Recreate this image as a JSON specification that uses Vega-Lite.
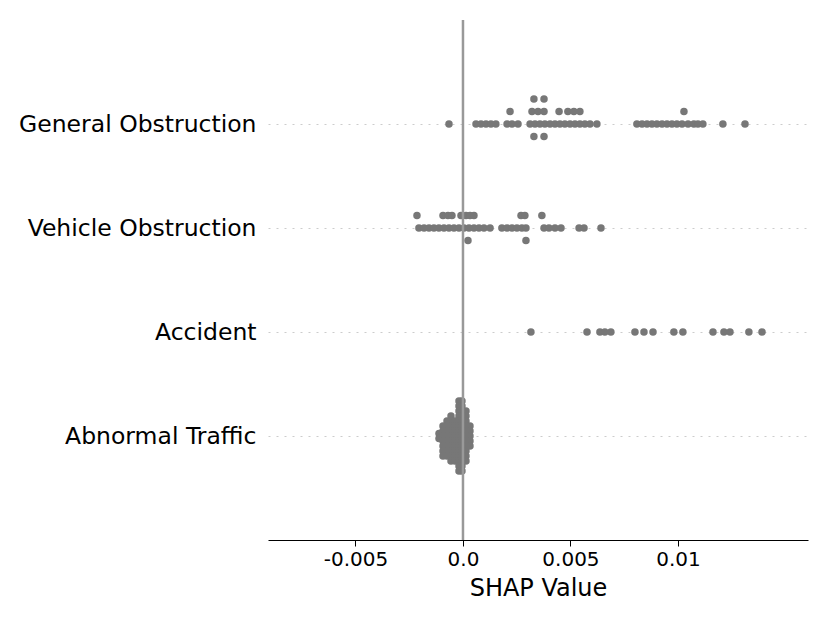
{
 "$schema": "https://vega.github.io/schema/vega-lite/v6.json",
 "width": 540,
 "height": 520,
 "autosize": {"type": "none"},
 "padding": {"left": 268, "top": 20, "right": 22, "bottom": 83},
 "background": "white",
 "config": {"view": {"stroke": null}, "font": "DejaVu Sans"},
 "datasets": {
  "pts": [
   {"feature":"General Obstruction","shap":-0.000651,"level":0},
   {"feature":"General Obstruction","shap":0.000605,"level":0},
   {"feature":"General Obstruction","shap":0.000837,"level":0},
   {"feature":"General Obstruction","shap":0.00107,"level":0},
   {"feature":"General Obstruction","shap":0.0013,"level":0},
   {"feature":"General Obstruction","shap":0.00153,"level":0},
   {"feature":"General Obstruction","shap":0.00205,"level":0},
   {"feature":"General Obstruction","shap":0.00228,"level":0},
   {"feature":"General Obstruction","shap":0.00256,"level":0},
   {"feature":"General Obstruction","shap":0.00312,"level":0},
   {"feature":"General Obstruction","shap":0.00335,"level":0},
   {"feature":"General Obstruction","shap":0.00358,"level":0},
   {"feature":"General Obstruction","shap":0.00381,"level":0},
   {"feature":"General Obstruction","shap":0.00405,"level":0},
   {"feature":"General Obstruction","shap":0.00428,"level":0},
   {"feature":"General Obstruction","shap":0.00451,"level":0},
   {"feature":"General Obstruction","shap":0.00474,"level":0},
   {"feature":"General Obstruction","shap":0.00498,"level":0},
   {"feature":"General Obstruction","shap":0.00521,"level":0},
   {"feature":"General Obstruction","shap":0.00544,"level":0},
   {"feature":"General Obstruction","shap":0.00567,"level":0},
   {"feature":"General Obstruction","shap":0.00591,"level":0},
   {"feature":"General Obstruction","shap":0.00623,"level":0},
   {"feature":"General Obstruction","shap":0.00809,"level":0},
   {"feature":"General Obstruction","shap":0.00833,"level":0},
   {"feature":"General Obstruction","shap":0.00856,"level":0},
   {"feature":"General Obstruction","shap":0.00879,"level":0},
   {"feature":"General Obstruction","shap":0.00902,"level":0},
   {"feature":"General Obstruction","shap":0.00926,"level":0},
   {"feature":"General Obstruction","shap":0.00949,"level":0},
   {"feature":"General Obstruction","shap":0.00972,"level":0},
   {"feature":"General Obstruction","shap":0.00995,"level":0},
   {"feature":"General Obstruction","shap":0.01019,"level":0},
   {"feature":"General Obstruction","shap":0.01047,"level":0},
   {"feature":"General Obstruction","shap":0.01074,"level":0},
   {"feature":"General Obstruction","shap":0.01093,"level":0},
   {"feature":"General Obstruction","shap":0.01116,"level":0},
   {"feature":"General Obstruction","shap":0.01209,"level":0},
   {"feature":"General Obstruction","shap":0.01312,"level":0},
   {"feature":"General Obstruction","shap":0.00219,"level":1},
   {"feature":"General Obstruction","shap":0.00321,"level":1},
   {"feature":"General Obstruction","shap":0.00349,"level":1},
   {"feature":"General Obstruction","shap":0.00377,"level":1},
   {"feature":"General Obstruction","shap":0.00447,"level":1},
   {"feature":"General Obstruction","shap":0.00488,"level":1},
   {"feature":"General Obstruction","shap":0.00516,"level":1},
   {"feature":"General Obstruction","shap":0.00544,"level":1},
   {"feature":"General Obstruction","shap":0.01028,"level":1},
   {"feature":"General Obstruction","shap":0.0033,"level":2},
   {"feature":"General Obstruction","shap":0.00377,"level":2},
   {"feature":"General Obstruction","shap":0.0033,"level":-1},
   {"feature":"General Obstruction","shap":0.00377,"level":-1},
   {"feature":"Vehicle Obstruction","shap":-0.00205,"level":0},
   {"feature":"Vehicle Obstruction","shap":-0.00181,"level":0},
   {"feature":"Vehicle Obstruction","shap":-0.00158,"level":0},
   {"feature":"Vehicle Obstruction","shap":-0.00135,"level":0},
   {"feature":"Vehicle Obstruction","shap":-0.00112,"level":0},
   {"feature":"Vehicle Obstruction","shap":-0.000884,"level":0},
   {"feature":"Vehicle Obstruction","shap":-0.000651,"level":0},
   {"feature":"Vehicle Obstruction","shap":-0.000419,"level":0},
   {"feature":"Vehicle Obstruction","shap":-0.000186,"level":0},
   {"feature":"Vehicle Obstruction","shap":0.0000465,"level":0},
   {"feature":"Vehicle Obstruction","shap":0.000279,"level":0},
   {"feature":"Vehicle Obstruction","shap":0.000512,"level":0},
   {"feature":"Vehicle Obstruction","shap":0.000744,"level":0},
   {"feature":"Vehicle Obstruction","shap":0.000977,"level":0},
   {"feature":"Vehicle Obstruction","shap":0.00126,"level":0},
   {"feature":"Vehicle Obstruction","shap":0.00181,"level":0},
   {"feature":"Vehicle Obstruction","shap":0.00205,"level":0},
   {"feature":"Vehicle Obstruction","shap":0.00228,"level":0},
   {"feature":"Vehicle Obstruction","shap":0.00251,"level":0},
   {"feature":"Vehicle Obstruction","shap":0.00274,"level":0},
   {"feature":"Vehicle Obstruction","shap":0.00293,"level":0},
   {"feature":"Vehicle Obstruction","shap":0.00377,"level":0},
   {"feature":"Vehicle Obstruction","shap":0.004,"level":0},
   {"feature":"Vehicle Obstruction","shap":0.00428,"level":0},
   {"feature":"Vehicle Obstruction","shap":0.00456,"level":0},
   {"feature":"Vehicle Obstruction","shap":0.0054,"level":0},
   {"feature":"Vehicle Obstruction","shap":0.00563,"level":0},
   {"feature":"Vehicle Obstruction","shap":0.00642,"level":0},
   {"feature":"Vehicle Obstruction","shap":-0.00214,"level":1},
   {"feature":"Vehicle Obstruction","shap":-0.00093,"level":1},
   {"feature":"Vehicle Obstruction","shap":-0.000698,"level":1},
   {"feature":"Vehicle Obstruction","shap":-0.000512,"level":1},
   {"feature":"Vehicle Obstruction","shap":-0.000093,"level":1},
   {"feature":"Vehicle Obstruction","shap":0.00014,"level":1},
   {"feature":"Vehicle Obstruction","shap":0.000326,"level":1},
   {"feature":"Vehicle Obstruction","shap":0.000512,"level":1},
   {"feature":"Vehicle Obstruction","shap":0.0027,"level":1},
   {"feature":"Vehicle Obstruction","shap":0.00288,"level":1},
   {"feature":"Vehicle Obstruction","shap":0.00367,"level":1},
   {"feature":"Vehicle Obstruction","shap":0.000233,"level":-1},
   {"feature":"Vehicle Obstruction","shap":0.00293,"level":-1},
   {"feature":"Accident","shap":0.00316,"level":0},
   {"feature":"Accident","shap":0.00577,"level":0},
   {"feature":"Accident","shap":0.00637,"level":0},
   {"feature":"Accident","shap":0.0066,"level":0},
   {"feature":"Accident","shap":0.00688,"level":0},
   {"feature":"Accident","shap":0.008,"level":0},
   {"feature":"Accident","shap":0.00842,"level":0},
   {"feature":"Accident","shap":0.00884,"level":0},
   {"feature":"Accident","shap":0.00981,"level":0},
   {"feature":"Accident","shap":0.01023,"level":0},
   {"feature":"Accident","shap":0.01163,"level":0},
   {"feature":"Accident","shap":0.01214,"level":0},
   {"feature":"Accident","shap":0.01242,"level":0},
   {"feature":"Accident","shap":0.0133,"level":0},
   {"feature":"Accident","shap":0.01391,"level":0},
   {"feature":"Abnormal Traffic","shap":-0.001116,"level":0.2},
   {"feature":"Abnormal Traffic","shap":-0.001116,"level":-0.2},
   {"feature":"Abnormal Traffic","shap":-0.00093,"level":0.8},
   {"feature":"Abnormal Traffic","shap":-0.00093,"level":0.4},
   {"feature":"Abnormal Traffic","shap":-0.00093,"level":0},
   {"feature":"Abnormal Traffic","shap":-0.00093,"level":-0.4},
   {"feature":"Abnormal Traffic","shap":-0.00093,"level":-0.8},
   {"feature":"Abnormal Traffic","shap":-0.00093,"level":-1.2},
   {"feature":"Abnormal Traffic","shap":-0.00093,"level":-1.6},
   {"feature":"Abnormal Traffic","shap":-0.000744,"level":1.2},
   {"feature":"Abnormal Traffic","shap":-0.000744,"level":0.8},
   {"feature":"Abnormal Traffic","shap":-0.000744,"level":0.4},
   {"feature":"Abnormal Traffic","shap":-0.000744,"level":0},
   {"feature":"Abnormal Traffic","shap":-0.000744,"level":-0.4},
   {"feature":"Abnormal Traffic","shap":-0.000744,"level":-0.8},
   {"feature":"Abnormal Traffic","shap":-0.000744,"level":-1.2},
   {"feature":"Abnormal Traffic","shap":-0.000744,"level":-1.6},
   {"feature":"Abnormal Traffic","shap":-0.000558,"level":1.6},
   {"feature":"Abnormal Traffic","shap":-0.000558,"level":1.2},
   {"feature":"Abnormal Traffic","shap":-0.000558,"level":0.8},
   {"feature":"Abnormal Traffic","shap":-0.000558,"level":0.4},
   {"feature":"Abnormal Traffic","shap":-0.000558,"level":0},
   {"feature":"Abnormal Traffic","shap":-0.000558,"level":-0.4},
   {"feature":"Abnormal Traffic","shap":-0.000558,"level":-0.8},
   {"feature":"Abnormal Traffic","shap":-0.000558,"level":-1.2},
   {"feature":"Abnormal Traffic","shap":-0.000558,"level":-1.6},
   {"feature":"Abnormal Traffic","shap":-0.000558,"level":-2.0},
   {"feature":"Abnormal Traffic","shap":-0.000372,"level":1.2},
   {"feature":"Abnormal Traffic","shap":-0.000372,"level":0.8},
   {"feature":"Abnormal Traffic","shap":-0.000372,"level":0.4},
   {"feature":"Abnormal Traffic","shap":-0.000372,"level":0},
   {"feature":"Abnormal Traffic","shap":-0.000372,"level":-0.4},
   {"feature":"Abnormal Traffic","shap":-0.000372,"level":-0.8},
   {"feature":"Abnormal Traffic","shap":-0.000372,"level":-1.2},
   {"feature":"Abnormal Traffic","shap":-0.000372,"level":-1.6},
   {"feature":"Abnormal Traffic","shap":-0.000372,"level":-2.0},
   {"feature":"Abnormal Traffic","shap":-0.000186,"level":2.8},
   {"feature":"Abnormal Traffic","shap":-0.000186,"level":2.4},
   {"feature":"Abnormal Traffic","shap":-0.000186,"level":2.0},
   {"feature":"Abnormal Traffic","shap":-0.000186,"level":1.6},
   {"feature":"Abnormal Traffic","shap":-0.000186,"level":1.2},
   {"feature":"Abnormal Traffic","shap":-0.000186,"level":0.8},
   {"feature":"Abnormal Traffic","shap":-0.000186,"level":0.4},
   {"feature":"Abnormal Traffic","shap":-0.000186,"level":0},
   {"feature":"Abnormal Traffic","shap":-0.000186,"level":-0.4},
   {"feature":"Abnormal Traffic","shap":-0.000186,"level":-0.8},
   {"feature":"Abnormal Traffic","shap":-0.000186,"level":-1.2},
   {"feature":"Abnormal Traffic","shap":-0.000186,"level":-1.6},
   {"feature":"Abnormal Traffic","shap":-0.000186,"level":-2.0},
   {"feature":"Abnormal Traffic","shap":-0.000186,"level":-2.4},
   {"feature":"Abnormal Traffic","shap":-0.000186,"level":-2.8},
   {"feature":"Abnormal Traffic","shap":-0.0000465,"level":2.8},
   {"feature":"Abnormal Traffic","shap":-0.0000465,"level":2.4},
   {"feature":"Abnormal Traffic","shap":-0.0000465,"level":2.0},
   {"feature":"Abnormal Traffic","shap":-0.0000465,"level":1.6},
   {"feature":"Abnormal Traffic","shap":-0.0000465,"level":1.2},
   {"feature":"Abnormal Traffic","shap":-0.0000465,"level":0.8},
   {"feature":"Abnormal Traffic","shap":-0.0000465,"level":0.4},
   {"feature":"Abnormal Traffic","shap":-0.0000465,"level":0},
   {"feature":"Abnormal Traffic","shap":-0.0000465,"level":-0.4},
   {"feature":"Abnormal Traffic","shap":-0.0000465,"level":-0.8},
   {"feature":"Abnormal Traffic","shap":-0.0000465,"level":-1.2},
   {"feature":"Abnormal Traffic","shap":-0.0000465,"level":-1.6},
   {"feature":"Abnormal Traffic","shap":-0.0000465,"level":-2.0},
   {"feature":"Abnormal Traffic","shap":-0.0000465,"level":-2.4},
   {"feature":"Abnormal Traffic","shap":-0.0000465,"level":-2.8},
   {"feature":"Abnormal Traffic","shap":0.00014,"level":2.0},
   {"feature":"Abnormal Traffic","shap":0.00014,"level":1.6},
   {"feature":"Abnormal Traffic","shap":0.00014,"level":1.2},
   {"feature":"Abnormal Traffic","shap":0.00014,"level":0.8},
   {"feature":"Abnormal Traffic","shap":0.00014,"level":0.4},
   {"feature":"Abnormal Traffic","shap":0.00014,"level":0},
   {"feature":"Abnormal Traffic","shap":0.00014,"level":-0.4},
   {"feature":"Abnormal Traffic","shap":0.00014,"level":-0.8},
   {"feature":"Abnormal Traffic","shap":0.00014,"level":-1.2},
   {"feature":"Abnormal Traffic","shap":0.00014,"level":-1.6},
   {"feature":"Abnormal Traffic","shap":0.00014,"level":-2.0},
   {"feature":"Abnormal Traffic","shap":0.000326,"level":0.8},
   {"feature":"Abnormal Traffic","shap":0.000326,"level":0.4},
   {"feature":"Abnormal Traffic","shap":0.000326,"level":0},
   {"feature":"Abnormal Traffic","shap":0.000326,"level":-0.4},
   {"feature":"Abnormal Traffic","shap":0.000326,"level":-0.8}
  ],
  "zero": [{"z": 0}]
 },
 "layer": [
  {
   "data": {"name": "pts"},
   "mark": {"type": "circle", "size": 56, "opacity": 1, "color": "#777777"},
   "encoding": {
    "x": {
     "field": "shap", "type": "quantitative",
     "scale": {"domain": [-0.00907, 0.01605], "nice": false, "zero": false},
     "axis": {
      "title": "SHAP Value",
      "values": [-0.005, 0, 0.005, 0.01],
      "labelExpr": "datum.value < -0.004 ? '-0.005' : datum.value < 0.001 ? '0.0' : datum.value < 0.006 ? '0.005' : '0.01'",
      "grid": false,
      "domainColor": "#000000", "domainWidth": 1,
      "tickColor": "#000000", "tickSize": 6, "tickWidth": 1,
      "labelFontSize": 20, "labelColor": "#000000", "labelPadding": 3, "labelFlush": false,
      "titleFontSize": 24, "titleFontWeight": "normal", "titleColor": "#000000", "titlePadding": 7
     }
    },
    "y": {
     "field": "feature", "type": "nominal",
     "sort": ["General Obstruction", "Vehicle Obstruction", "Accident", "Abnormal Traffic"],
     "scale": {"type": "point", "padding": 1},
     "axis": {
      "title": null, "domain": false, "ticks": false,
      "labelFontSize": 23.5, "labelColor": "#000000", "labelPadding": 12, "labelLimit": 0,
      "grid": true, "gridColor": "#cccccc", "gridDash": [2, 6], "gridWidth": 1
     }
    },
    "yOffset": {
     "field": "level", "type": "quantitative",
     "scale": {"domain": [-4, 4], "range": [50, -50]}
    }
   }
  },
  {
   "data": {"name": "zero"},
   "mark": {"type": "rule", "color": "#999999", "strokeWidth": 2.5},
   "encoding": {"x": {"field": "z", "type": "quantitative"}}
  }
 ]
}
